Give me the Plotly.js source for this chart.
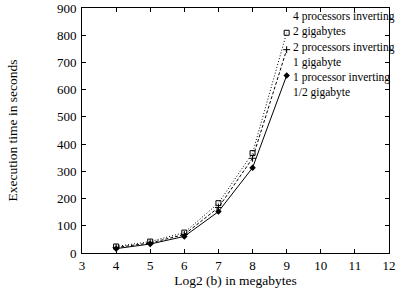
<!DOCTYPE html>
<html>
<head>
<meta charset="utf-8">
<script src="https://cdn.plot.ly/plotly-3.0.1.min.js"></script>
<style>html,body{margin:0;padding:0;background:#fff;}#chart{width:414px;height:293px;}</style>
</head>
<body>
<div id="chart"></div>
<script>
const xValues = [4, 5, 6, 7, 8, 9];
const fourProc = [24, 42, 75, 183, 367, 809];
const twoProc = [20, 37, 68, 167, 348, 747];
const oneProc = [16, 33, 61, 152, 313, 652];
const labelTexts = [
  "4 processors inverting<br>2 gigabytes",
  "2 processors inverting<br>1 gigabyte",
  "1 processor inverting<br>1/2 gigabyte"
];
const labelY = [843, 729, 616];
const xTickVals = [3, 4, 5, 6, 7, 8, 9, 10, 11, 12];
const yTickVals = [0, 100, 200, 300, 400, 500, 600, 700, 800, 900];

const family = '"Liberation Serif", "Times New Roman", serif';
const font = {family: family, size: 13, color: '#000'};
const titleFont = {family: family, size: 13.5, color: '#000'};
const labelFont = {family: family, size: 11.5, color: '#000'};

const traces = [
  {x: xValues, y: oneProc, mode: 'lines+markers', line: {color: '#000', width: 1, dash: 'solid'},
   marker: {symbol: 'diamond', size: 5, color: '#000'}},
  {x: xValues, y: twoProc, mode: 'lines+markers', line: {color: '#000', width: 1, dash: '3px,2px'},
   marker: {symbol: 'cross-thin-open', size: 5, color: '#000', line: {width: 1, color: '#000'}}},
  {x: xValues, y: fourProc, mode: 'lines+markers', line: {color: '#000', width: 1, dash: '1px,2px'},
   marker: {symbol: 'square-open', size: 5, color: '#000', line: {width: 1, color: '#000'}}}
];

const annotations = labelTexts.map((t, i) => ({
  x: 9.15, y: labelY[i], xref: 'x', yref: 'y', text: t, showarrow: false,
  xanchor: 'left', yanchor: 'middle', align: 'left', font: labelFont, borderpad: 0
}));

const layout = {
  width: 414, height: 293,
  margin: {l: 82, r: 25, t: 8, b: 40},
  paper_bgcolor: '#fff', plot_bgcolor: '#fff',
  showlegend: false,
  font: font,
  xaxis: {range: [3, 12], tickvals: xTickVals, ticks: 'inside', ticklen: 4, tickcolor: '#000',
    showline: true, linecolor: '#000', linewidth: 1, mirror: 'ticks', showgrid: false, zeroline: false,
    title: {text: 'Log2 (b) in megabytes', font: titleFont, standoff: 3}, tickfont: font},
  yaxis: {range: [0, 900], tickvals: yTickVals, ticks: 'inside', ticklen: 4, tickcolor: '#000',
    showline: true, linecolor: '#000', linewidth: 1, mirror: 'ticks', showgrid: false, zeroline: false,
    ticklabelstandoff: 2,
    title: {text: 'Execution time in seconds', font: titleFont, standoff: 36}, tickfont: font},
  annotations: annotations
};

Plotly.newPlot('chart', traces, layout, {displayModeBar: false, staticPlot: true});
</script>
</body>
</html>
